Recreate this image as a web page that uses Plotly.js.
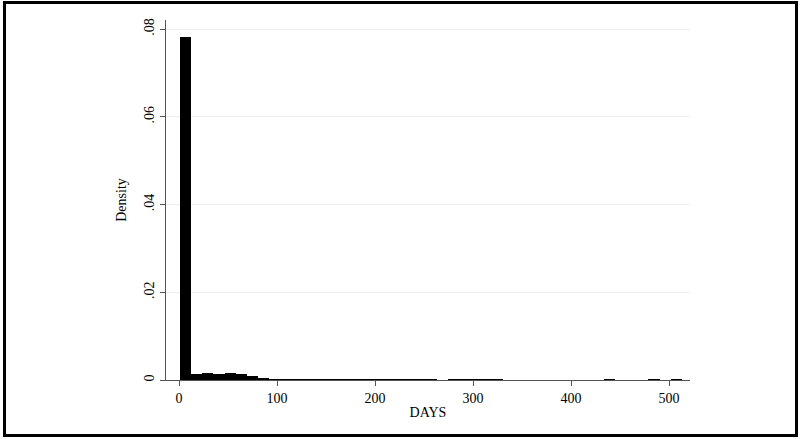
<!DOCTYPE html>
<html>
<head>
<meta charset="utf-8">
<script src="https://cdn.plot.ly/plotly-3.0.1.min.js"></script>
<style>
  html, body { margin: 0; padding: 0; background: #fff; }
  #wrap { position: relative; width: 800px; height: 439px; }
  #chart { width: 800px; height: 439px; }
  #frame {
    position: absolute; left: 3px; top: 1px; width: 795px; height: 436px;
    border: 3px solid #000; box-sizing: border-box; pointer-events: none;
  }
</style>
</head>
<body>
<div id="wrap">
  <div id="chart"></div>
  <div id="frame"></div>
</div>
<script>
// Histogram of DAYS: bins start at day 1 with a fixed width
const binStart = 1;
const binWidth = 11.38;

// Density of each bin, in order (0 = empty bin)
const density = [
  0.0782, 0.00144, 0.0016, 0.00144, 0.0016, 0.00144, 0.0010, 0.00055, 0.0003,
  0.00025, 0.00025, 0.00025, 0.00025, 0.00025, 0.00025, 0.00025, 0.00025, 0.00025,
  0.00025, 0.00025, 0.00025, 0.00025, 0.00025, 0, 0.00025, 0.00025, 0.00025, 0.00025,
  0.00025, 0, 0, 0, 0, 0, 0, 0, 0, 0, 0.00025, 0, 0, 0, 0.00025, 0, 0.00025
];

const xTicks = [0, 100, 200, 300, 400, 500];
const yTicks = [0, 0.02, 0.04, 0.06, 0.08];
const yTickText = ['0', '.02', '.04', '.06', '.08'];

const binLeft = density.map((_, i) => binStart + i * binWidth);

const font = { family: 'Liberation Serif, Times New Roman, serif', size: 14, color: '#000' };

const trace = {
  type: 'bar',
  x: binLeft,
  y: density,
  width: binWidth,
  offset: 0,
  marker: { color: '#000', line: { width: 0 } },
  hoverinfo: 'x+y'
};

const layout = {
  width: 800,
  height: 439,
  margin: { l: 166, r: 110, t: 20, b: 59 },
  paper_bgcolor: '#fff',
  plot_bgcolor: '#fff',
  font: font,
  bargap: 0,
  showlegend: false,
  xaxis: {
    range: [-13.3, 521.4],
    tickvals: xTicks,
    ticktext: xTicks.map(String),
    ticks: 'outside', ticklen: 5, tickcolor: '#555', tickwidth: 1,
    showline: true, linecolor: '#555', linewidth: 1,
    showgrid: false, zeroline: false,
    title: { text: 'DAYS', font: font, standoff: 2 },
    tickfont: font
  },
  yaxis: {
    range: [0, 0.0821],
    tickvals: yTicks,
    ticktext: yTickText,
    tickangle: -90,
    ticks: 'outside', ticklen: 5, tickcolor: '#555', tickwidth: 1,
    showline: true, linecolor: '#555', linewidth: 1,
    showgrid: true, gridcolor: '#eeeeee', gridwidth: 1,
    zeroline: false,
    title: { text: 'Density', font: font, standoff: 12 },
    tickfont: font
  }
};

Plotly.newPlot('chart', [trace], layout, { displayModeBar: false, staticPlot: true });
</script>
</body>
</html>
